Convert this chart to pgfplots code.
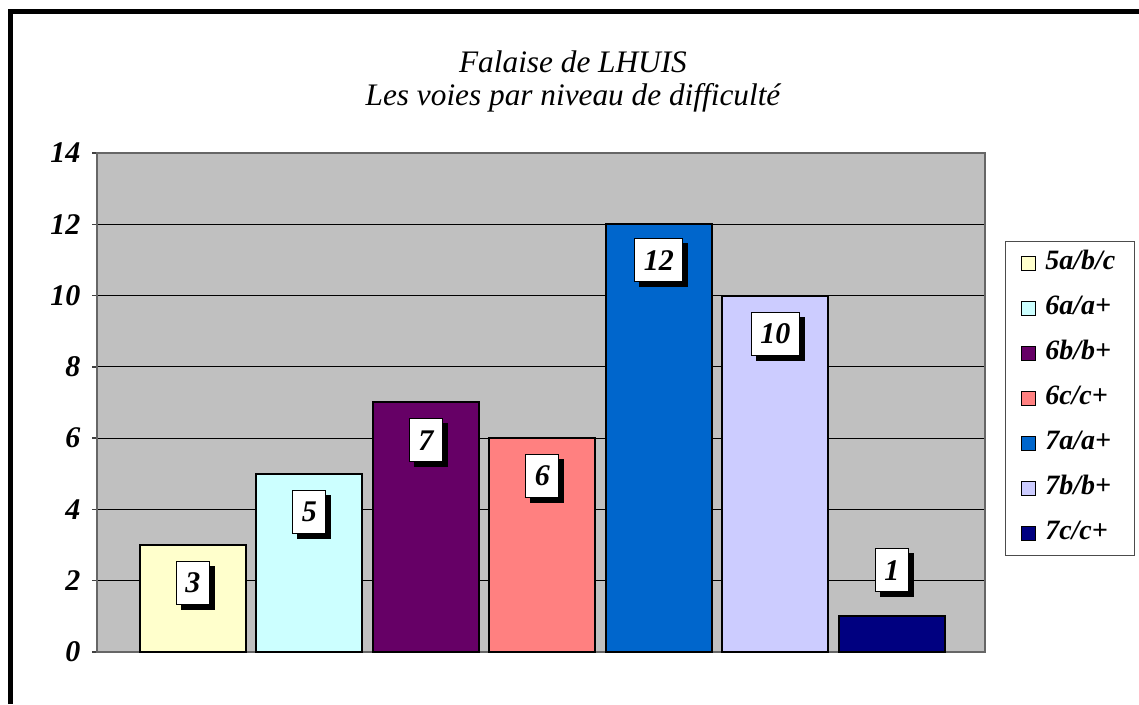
\documentclass[border=0pt]{standalone}
\usepackage{pgfplots}
\pgfplotsset{compat=1.18}
\usepackage{fontspec}
\setmainfont{Liberation Serif}
\usetikzlibrary{shadows}
\definecolor{c1}{HTML}{FFFFCC}
\definecolor{c2}{HTML}{CCFFFF}
\definecolor{c3}{HTML}{660066}
\definecolor{c4}{HTML}{FF8080}
\definecolor{c5}{HTML}{0066CC}
\definecolor{c6}{HTML}{CCCCFF}
\definecolor{c7}{HTML}{000080}
\definecolor{bg}{HTML}{C0C0C0}
\pgfplotsset{barst/.style={fill=#1, draw=black, line width=2pt, nodes near coords}}
\begin{document}
\begin{tikzpicture}
\path[use as bounding box] (0pt,0pt) rectangle (1139pt,704pt);
\draw[line width=5pt] (10.5pt,0pt) -- (10.5pt,692.5pt) -- (1139pt,692.5pt);
\node[font=\itshape\fontsize{31.3}{36}\selectfont] at (573pt,642pt) {Falaise de LHUIS};
\node[font=\itshape\fontsize{31.3}{36}\selectfont] at (573pt,606pt) {Les voies par niveau de difficulté};
\begin{axis}[
  at={(97pt,52pt)}, anchor=south west,
  width=888pt, height=499pt, scale only axis,
  ybar, bar width=0.91, bar shift=0pt,
  xmin=-0.824, xmax=6.8,
  ymin=0, ymax=14, ytick={0,2,...,14},
  xtick=\empty, ytick pos=left,
  axis background/.style={fill=bg},
  ymajorgrids, grid style={black, line width=1pt},
  axis line style={draw=black!60, line width=1.5pt},
  tick align=outside, major tick length=5pt,
  ytick style={draw=black!75, line width=1.5pt},
  /pgf/number format/assume math mode=true,
  yticklabel style={font=\bfseries\itshape\fontsize{30}{36}\selectfont, xshift=-8pt},
  clip=false,
  every node near coord/.append style={font=\bfseries\itshape\fontsize{30}{36}\selectfont,
     fill=white, draw=black, line width=1pt, anchor=center, inner xsep=9pt, inner ysep=0pt,
     minimum height=43pt,
     drop shadow={shadow xshift=5pt, shadow yshift=-5pt, fill=black, opacity=1}},
  legend image code/.code={\draw[#1,draw=black,line width=1.5pt] (0pt,-7pt) rectangle (14pt,7pt); \path (19pt,0pt);},
  legend cell align=left,
  legend style={at={(1.0225,0.8236)}, anchor=north west, draw=black!70, line width=1pt,
     font=\bfseries\itshape\fontsize{28}{30}\selectfont, row sep=17pt,
     inner xsep=15pt, inner ysep=8pt,
     nodes={inner xsep=4pt, inner ysep=2pt, text height=18pt, text depth=6pt}},
]
\addplot[barst=c1, every node near coord/.append style={yshift=-38pt}] coordinates {(0,3)};
\addlegendentry{5a/b/c}
\addplot[barst=c2, every node near coord/.append style={yshift=-38pt}] coordinates {(1,5)};
\addlegendentry{6a/a+}
\addplot[barst=c3, every node near coord/.append style={yshift=-38pt}] coordinates {(2,7)};
\addlegendentry{6b/b+}
\addplot[barst=c4, every node near coord/.append style={yshift=-38pt}] coordinates {(3,6)};
\addlegendentry{6c/c+}
\addplot[barst=c5, every node near coord/.append style={yshift=-36pt}] coordinates {(4,12)};
\addlegendentry{7a/a+}
\addplot[barst=c6, every node near coord/.append style={yshift=-38pt}] coordinates {(5,10)};
\addlegendentry{7b/b+}
\addplot[barst=c7, every node near coord/.append style={yshift=46pt}] coordinates {(6,1)};
\addlegendentry{7c/c+}
\end{axis}
\end{tikzpicture}
\end{document}
